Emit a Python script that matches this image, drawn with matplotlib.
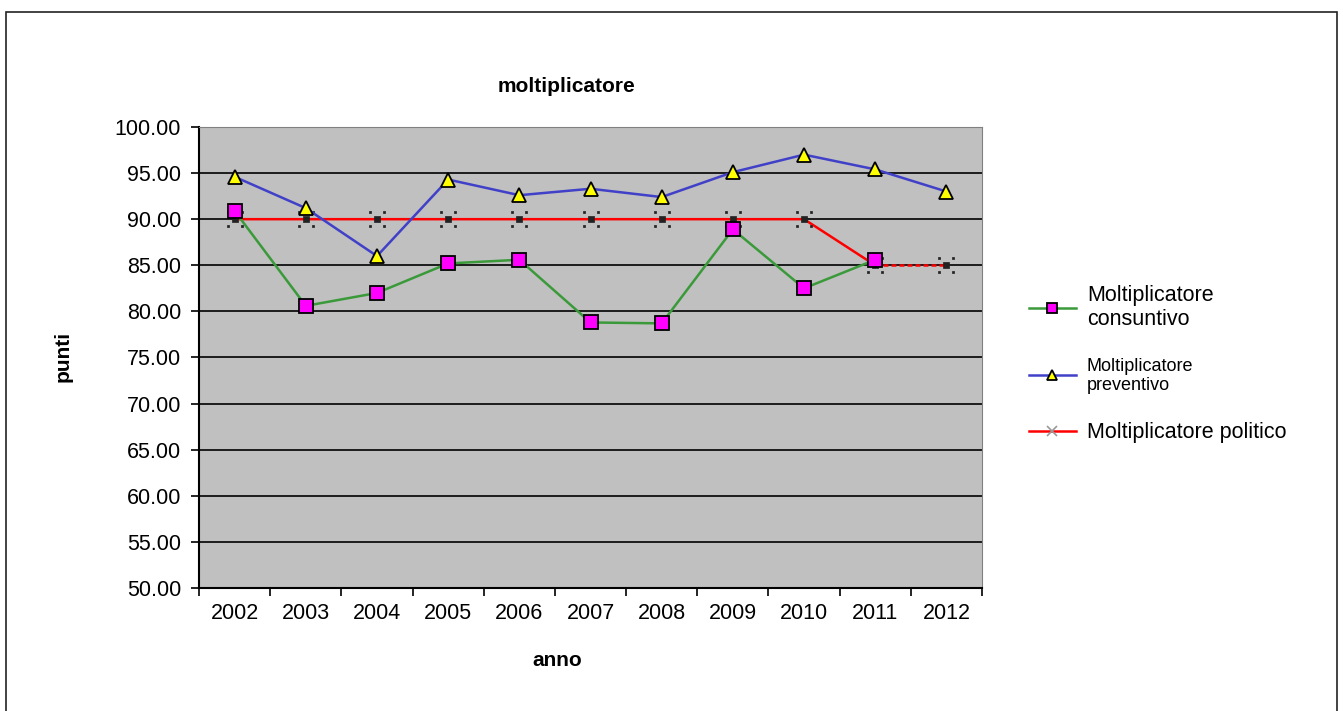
import numpy as np
import matplotlib.pyplot as plt
from matplotlib.patches import Rectangle
from matplotlib.path import Path

plt.rcParams['font.family'] = ['Liberation Sans', 'DejaVu Sans']

anni = ['2002', '2003', '2004', '2005', '2006', '2007', '2008', '2009', '2010', '2011', '2012']
consuntivo = [90.9, 80.6, 82.0, 85.2, 85.6, 78.8, 78.7, 88.9, 82.5, 85.6, np.nan]
preventivo = [94.6, 91.2, 86.0, 94.3, 92.6, 93.3, 92.4, 95.1, 97.0, 95.4, 93.0]
politico = [90, 90, 90, 90, 90, 90, 90, 90, 90, 85, 85]

# marker "x" a puntini come in Excel
def quadratino(cx, cy, r):
    return Path([(cx - r, cy - r), (cx + r, cy - r), (cx + r, cy + r), (cx - r, cy + r), (cx - r, cy - r)],
                [Path.MOVETO, Path.LINETO, Path.LINETO, Path.LINETO, Path.CLOSEPOLY])

punti_x = Path.make_compound_path(quadratino(0, 0, 0.38),
                                  quadratino(-1, -1, 0.16), quadratino(1, -1, 0.16),
                                  quadratino(-1, 1, 0.16), quadratino(1, 1, 0.16))

fig = plt.figure(figsize=(13.43, 7.11), dpi=100)
fig.patches.append(Rectangle((0.0045, -0.01), 0.991, 0.993, transform=fig.transFigure,
                             fill=False, edgecolor='#222222', linewidth=1.2))

ax = fig.add_axes([0.1482, 0.173, 0.583, 0.6484])
ax.set_facecolor('#C0C0C0')
x = np.arange(len(anni))

l1, = ax.plot(x, consuntivo, color='#3A9A3A', lw=1.8, marker='s', ms=10,
              mfc='#FF00FF', mec='black', mew=1.3, zorder=4)
l2, = ax.plot(x, preventivo, color='#4040C8', lw=1.8, marker='^', ms=10,
              mfc='#FFFF00', mec='black', mew=1.3, zorder=5)
ax.plot(x[:-1], politico[:-1], color='#FF0000', lw=1.8, zorder=3)
ax.plot(x[-2:], politico[-2:], color='#FF0000', lw=1.8, ls=(0, (2, 1.2)), zorder=3)
ax.plot(x, politico, ls='none', marker=punti_x, ms=11, mfc='#222222', mec='#222222', mew=0.5, zorder=3.5)
l3, = ax.plot([], [], color='#FF0000', lw=1.8, marker='x', ms=8, mec='#999999', mew=1.2)

ax.set_xlim(-0.5, len(anni) - 0.5)
ax.set_ylim(50, 100)
ax.set_yticks(np.arange(50, 101, 5))
ax.set_yticklabels(['%.2f' % v for v in np.arange(50, 101, 5)], fontsize=15.5)
ax.set_xticks(x)
ax.set_xticklabels(anni, fontsize=15.5)
ax.set_xticks(np.arange(-0.5, len(anni)), minor=True)
ax.tick_params(axis='x', which='major', length=0, pad=11)
ax.tick_params(axis='x', which='minor', length=6, width=1.2, direction='out')
ax.tick_params(axis='y', length=6, width=1.2, direction='out', pad=7)
ax.yaxis.grid(True, color='black', lw=1.2)
ax.set_axisbelow(True)
for s in ['top', 'right']:
    ax.spines[s].set_color('#808080')
for s in ['left', 'bottom']:
    ax.spines[s].set_linewidth(1.5)

fig.text(0.4215, 0.879, 'moltiplicatore', fontsize=15, fontweight='bold', ha='center', va='center')
fig.text(0.047, 0.498, 'punti', fontsize=15, fontweight='bold', rotation=90, ha='center', va='center')
fig.text(0.4147, 0.071, 'anno', fontsize=15, fontweight='bold', ha='center', va='center')

leg = fig.legend([l1, l2, l3],
                 ['Moltiplicatore\nconsuntivo', 'Moltiplicatore\npreventivo', 'Moltiplicatore politico'],
                 loc='upper left', bbox_to_anchor=(0.7515, 0.627), frameon=False,
                 fontsize=15.5, handlelength=2.2, labelspacing=1.3, handletextpad=0.5)
leg.get_texts()[1].set_fontsize(13)
for h in leg.legend_handles:
    h.set_markersize(7)

fig.savefig('out.png', dpi=100)
